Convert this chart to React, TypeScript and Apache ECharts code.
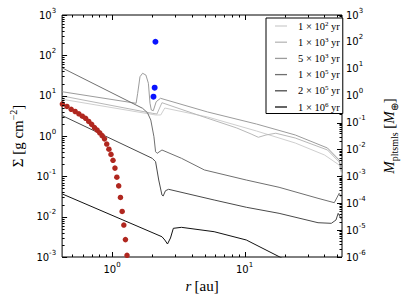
import React, { useEffect, useRef } from "react";
import * as echarts from "echarts";

// ---- legend / series meta ----
const seriesNames = ["t1e2", "t1e3", "t5e3", "t1e5", "t2e5", "t1e6"];
const legendMantissa = ["1", "1", "5", "1", "2", "1"];
const legendExponent = ["2", "3", "3", "5", "5", "6"];
const lineColors = ["#cfcfcf", "#b8b8b8", "#9c9c9c", "#707070", "#4a4a4a", "#111111"];

// ---- gas surface density curves [r (au), Sigma (g cm^-2)] ----
const gas1e2: [number, number][] = [
  [0.422, 8.13], [2.13, 3.32], [2.33, 3.32], [2.5, 4.94], [5.26, 2.96],
  [12.3, 1.33], [24.1, 0.67], [40.1, 0.338], [51.7, 0.191], [54.3, 0.108],
];
const gas1e3: [number, number][] = [
  [0.422, 9.81], [2.01, 3.66], [2.18, 3.51], [2.38, 6.69], [4.44, 3.32],
  [8.73, 1.58], [11.2, 1.12], [12.7, 0.929], [14.5, 1.06], [17.2, 1.17],
  [24.1, 0.892], [42.2, 0.45], [51.7, 0.227], [54.3, 0.114],
];
const gas5e3: [number, number][] = [
  [0.422, 12.5], [1.519, 6.47], [1.561, 11.45], [1.625, 29.5], [1.7, 35.9],
  [1.8, 32.5], [1.88, 20.3], [1.934, 6.47], [1.978, 4.41], [2.047, 4.24],
  [2.153, 7.08], [2.32, 8.61], [5.26, 3.94], [12.3, 1.98], [24.1, 1.06],
  [42.2, 0.504], [51.7, 0.254], [54.3, 0.128],
];
const gas1e5: [number, number][] = [
  [0.422, 48.5], [1.7, 4.86], [1.85, 3.78], [1.96, 2.49], [2.07, 0.96],
  [2.13, 0.408], [2.19, 0.372], [2.38, 0.45], [3.34, 0.28], [4.97, 0.144],
  [10.3, 0.081], [18.2, 0.0535], [35.8, 0.0285], [47.5, 0.0222], [51.7, 0.038],
  [53.9, 0.0299],
];
const gas2e5: [number, number][] = [
  [0.422, 3.19], [2.01, 0.28], [2.13, 0.231], [2.25, 0.081], [2.38, 0.0344],
  [2.43, 0.0325], [2.53, 0.044], [2.67, 0.0477], [5.89, 0.0259], [10.3, 0.0171],
  [18.2, 0.0121], [35.8, 0.00708], [45.1, 0.00684], [48.9, 0.00826], [50.8, 0.0121],
  [53.9, 0.0085],
];
const gas1e6: [number, number][] = [
  [0.422, 0.0365], [2.38, 0.00318], [2.5, 0.00264], [2.62, 0.0021], [2.76, 0.00296],
  [2.9, 0.00514], [3.34, 0.00544], [5.89, 0.00424], [10.3, 0.00264], [18.2, 0.00102],
  [20.4, 0.00084],
];

// ---- red dots (left axis) ----
const dustR = [
  0.422, 0.457, 0.492, 0.527, 0.562, 0.597, 0.632, 0.667, 0.702, 0.737, 0.772, 0.807, 0.842,
  0.877, 0.912, 0.947, 0.982, 1.017, 1.052, 1.087, 1.122, 1.157, 1.192, 1.227, 1.262, 1.297,
];
const dustSigma = [
  6.2, 5.4, 4.6, 4.05, 3.55, 3.1, 2.75, 2.3, 1.95, 1.62, 1.4, 1.2, 1.02,
  0.85, 0.63, 0.47, 0.35, 0.25, 0.16, 0.095, 0.058, 0.03, 0.0135, 0.0062, 0.0027, 0.0011,
];

// ---- blue dots (right axis, planetesimal mass in Earth masses) ----
const planetR = [2.125, 2.096, 2.054];
const planetMass = [101, 1.98, 0.914];

// ---- axes ----
const xMin = 0.42;
const xMax = 54.3;
const leftMin = 1e-3;
const leftMax = 1e3;
const rightMin = 1e-6;
const rightMax = 1e3;
const xDecades = [0.1, 1, 10, 100];
const leftDecades = [1e-3, 1e-2, 1e-1, 1, 10, 100, 1000];
const rightDecades = [1e-6, 1e-5, 1e-4, 1e-3, 1e-2, 1e-1, 1, 10, 100, 1000];
const minorFactors = [2, 3, 4, 5, 6, 7, 8, 9];

const MAJ = 5;
const MIN = 2.5;

function tickList(decades: number[], lo: number, hi: number): [number, boolean][] {
  const out: [number, boolean][] = [];
  decades.forEach((d) => {
    if (d >= lo * 0.9999 && d <= hi * 1.0001) out.push([d, true]);
    minorFactors.forEach((k) => {
      const v = k * d;
      if (v >= lo && v <= hi) out.push([v, false]);
    });
  });
  return out;
}

const xTicks = tickList(xDecades, xMin, xMax);
const leftTicks = tickList(leftDecades, leftMin, leftMax);
const rightTicks = tickList(rightDecades, rightMin, rightMax);

const tickFont = "DejaVu Sans";
const serif = "Liberation Serif";

function powLabel(v: number): string {
  const e = Math.log10(v);
  const n = Math.round(e);
  if (Math.abs(e - n) > 1e-6) return "";
  return `{b|10}{s|${n < 0 ? "-" : ""}${Math.abs(n)}}`;
}

const tickRich = {
  b: { fontFamily: tickFont, fontSize: 10, color: "#000", lineHeight: 16, verticalAlign: "middle" },
  s: { fontFamily: tickFont, fontSize: 7, color: "#000", lineHeight: 9, verticalAlign: "top" },
};

const makeTicks = (which: "left" | "right") => (params: any, api: any) => {
  const cs = params.coordSys;
  const L = cs.x;
  const T = cs.y;
  const R = cs.x + cs.width;
  const B = cs.y + cs.height;
  const kids: any[] = [];
  const add = (x1: number, y1: number, x2: number, y2: number) =>
    kids.push({ type: "line", silent: true, shape: { x1, y1, x2, y2 }, style: { stroke: "#000", lineWidth: 1 } });
  if (which === "left") {
    xTicks.forEach(([v, major]) => {
      const p = Math.round(api.coord([v, 1])[0]) + 0.5;
      const len = major ? MAJ : MIN;
      add(p, B, p, B - len);
      add(p, T, p, T + len);
    });
    leftTicks.forEach(([v, major]) => {
      const p = Math.round(api.coord([1, v])[1]) + 0.5;
      add(L, p, L + (major ? MAJ : MIN), p);
    });
  } else {
    rightTicks.forEach(([v, major]) => {
      const p = Math.round(api.coord([1, v])[1]) + 0.5;
      add(R, p, R - (major ? MAJ : MIN), p);
    });
  }
  return { type: "group", children: kids };
};

const gasData = [gas1e2, gas1e3, gas5e3, gas1e5, gas2e5, gas1e6];

export default function App() {
  const ref = useRef<HTMLDivElement>(null);
  useEffect(() => {
    if (!ref.current) return;
    const chart = echarts.init(ref.current, undefined, { renderer: "svg" });
    const lineSeries = seriesNames.map((name, i) => ({
      name,
      type: "line",
      data: gasData[i],
      symbol: "none",
      showSymbol: false,
      lineStyle: { color: lineColors[i], width: 1 },
      itemStyle: { color: lineColors[i] },
      z: 2 + i,
    }));
    const option: any = {
      animation: false,
      backgroundColor: "#fff",
      grid: { left: 61, right: 59, top: 15, bottom: 48, show: true, borderColor: "#000", borderWidth: 1, backgroundColor: "transparent" },
      legend: {
        data: seriesNames,
        orient: "vertical",
        left: 266,
        top: 18,
        padding: [2, 3, 1, 9],
        icon: "rect",
        itemWidth: 12,
        itemHeight: 1.3,
        itemGap: 4.7,
        borderColor: "#000",
        borderWidth: 1,
        backgroundColor: "#fff",
        selectedMode: false,
        formatter: (name: string) => {
          const i = seriesNames.indexOf(name);
          return `{n|${legendMantissa[i]} × 10}{s|${legendExponent[i]}}{n| yr}`;
        },
        textStyle: {
          padding: [0, 0, 0, 6],
          rich: {
            n: { fontFamily: serif, fontSize: 10.5, color: "#000", lineHeight: 12, verticalAlign: "middle" },
            s: { fontFamily: serif, fontSize: 7, color: "#000", lineHeight: 7, verticalAlign: "top" },
          },
        },
        z: 20,
      },
      xAxis: {
        type: "log",
        logBase: 10,
        min: xMin,
        max: xMax,
        axisLine: { show: false },
        axisTick: { show: false },
        splitLine: { show: false },
        axisLabel: { formatter: powLabel, margin: 4, rich: tickRich, showMinLabel: false, showMaxLabel: false },
        name: "{i|r} {n|[au]}",
        nameLocation: "middle",
        nameGap: 15,
        nameTextStyle: {
          rich: {
            i: { fontFamily: serif, fontStyle: "italic", fontSize: 15, color: "#000" },
            n: { fontFamily: serif, fontSize: 15, color: "#000" },
          },
        },
      },
      yAxis: [
        {
          type: "log",
          logBase: 10,
          min: leftMin,
          max: leftMax,
          position: "left",
          axisLine: { show: false },
          axisTick: { show: false },
          splitLine: { show: false },
          axisLabel: { formatter: powLabel, margin: 6, rich: tickRich },
          name: "{n|Σ [g cm}{s|−2}{n|]}",
          nameLocation: "middle",
          nameRotate: 90,
          nameGap: 25,
          nameTextStyle: {
            rich: {
              n: { fontFamily: serif, fontSize: 15, color: "#000", lineHeight: 20, verticalAlign: "middle" },
              s: { fontFamily: serif, fontSize: 10, color: "#000", lineHeight: 12, verticalAlign: "top" },
            },
          },
        },
        {
          type: "log",
          logBase: 10,
          min: rightMin,
          max: rightMax,
          position: "right",
          axisLine: { show: false },
          axisTick: { show: false },
          splitLine: { show: false },
          axisLabel: { formatter: powLabel, margin: 4, rich: tickRich },
          name: "{i|M}{sub|pltsmls}{n| [}{i|M}{sub|⊕}{n|]}",
          nameLocation: "middle",
          nameRotate: 90,
          nameGap: 37,
          nameTextStyle: {
            rich: {
              i: { fontFamily: serif, fontStyle: "italic", fontSize: 15, color: "#000", lineHeight: 20, verticalAlign: "middle" },
              n: { fontFamily: serif, fontSize: 15, color: "#000", lineHeight: 20, verticalAlign: "middle" },
              sub: { fontFamily: serif, fontSize: 10, color: "#000", lineHeight: 12, verticalAlign: "bottom" },
            },
          },
        },
      ],
      series: [
        ...lineSeries,
        {
          name: "dust",
          type: "scatter",
          data: dustR.map((r, i) => [r, dustSigma[i]]),
          symbolSize: 5.5,
          itemStyle: { color: "#b0271f", opacity: 1 },
          z: 10,
        },
        {
          name: "planetesimals",
          type: "scatter",
          yAxisIndex: 1,
          data: planetR.map((r, i) => [r, planetMass[i]]),
          symbolSize: 6,
          itemStyle: { color: "#0a14ff", opacity: 1 },
          z: 11,
        },
        {
          name: "ticksLeft",
          type: "custom",
          renderItem: makeTicks("left"),
          data: [[1, 1]],
          silent: true,
          clip: false,
          z: 15,
        },
        {
          name: "ticksRight",
          type: "custom",
          yAxisIndex: 1,
          renderItem: makeTicks("right"),
          data: [[1, 1]],
          silent: true,
          clip: false,
          z: 15,
        },
      ],
    };
    chart.setOption(option);
    return () => chart.dispose();
  }, []);
  return <div ref={ref} style={{ position: "fixed", left: 0, top: 0, width: 407, height: 305 }} />;
}
